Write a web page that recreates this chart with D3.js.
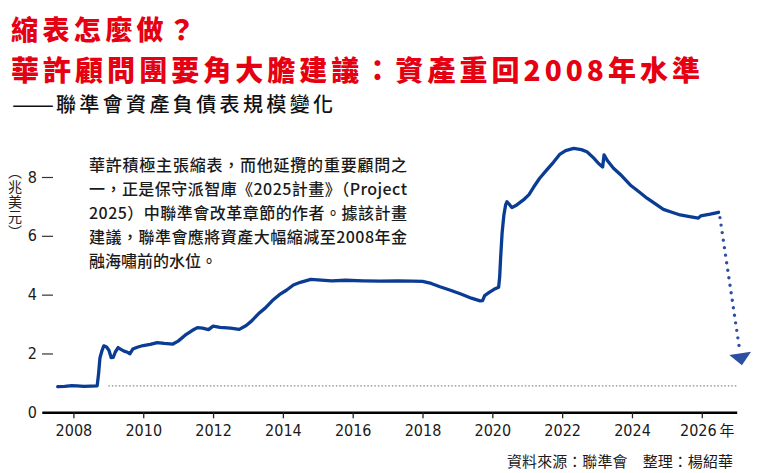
<!DOCTYPE html>
<html>
<head>
<meta charset="utf-8">
<script src="https://cdn.jsdelivr.net/npm/d3@7"></script>
<style>
  body { margin: 0; background: #fff; }
  svg { display: block; }
</style>
</head>
<body>
<div id="chart"></div>
<script>
// 聯準會資產負債表（兆美元）
const years = [2007.55, 2007.75, 2007.95, 2008.1, 2008.3, 2008.5, 2008.68, 2008.72, 2008.76, 2008.82,
  2008.87, 2008.95, 2009.02, 2009.08, 2009.14, 2009.2, 2009.28, 2009.36, 2009.45, 2009.55,
  2009.62, 2009.7, 2009.85, 2010.0, 2010.2, 2010.4, 2010.6, 2010.85, 2011.0, 2011.2,
  2011.4, 2011.55, 2011.7, 2011.87, 2012.0, 2012.2, 2012.5, 2012.75, 2012.95, 2013.1,
  2013.3, 2013.5, 2013.7, 2013.9, 2014.1, 2014.3, 2014.5, 2014.8, 2015.0, 2015.4,
  2015.8, 2016.3, 2016.8, 2017.3, 2017.7, 2018.0, 2018.25, 2018.5, 2018.8, 2019.1,
  2019.4, 2019.65, 2019.72, 2019.78, 2019.9, 2020.05, 2020.18, 2020.21, 2020.24, 2020.28,
  2020.33, 2020.38, 2020.42, 2020.5, 2020.56, 2020.7, 2020.89, 2021.05, 2021.18, 2021.35,
  2021.56, 2021.75, 2021.94, 2022.1, 2022.33, 2022.55, 2022.71, 2022.9, 2023.05, 2023.16,
  2023.2, 2023.3, 2023.47, 2023.7, 2023.95, 2024.2, 2024.43, 2024.65, 2024.9, 2025.1,
  2025.38, 2025.65, 2025.9, 2025.97, 2026.24, 2026.48];
const assets = [0.87, 0.88, 0.91, 0.90, 0.88, 0.89, 0.90, 1.30, 1.85, 2.10,
  2.26, 2.22, 2.10, 1.86, 1.87, 2.05, 2.20, 2.14, 2.08, 2.04,
  1.99, 2.15, 2.22, 2.27, 2.31, 2.37, 2.34, 2.32, 2.42, 2.62,
  2.78, 2.88, 2.86, 2.81, 2.93, 2.89, 2.86, 2.82, 2.95, 3.10,
  3.35, 3.55, 3.80, 4.00, 4.15, 4.33, 4.42, 4.52, 4.50, 4.47,
  4.49, 4.47, 4.46, 4.47, 4.46, 4.45, 4.38, 4.27, 4.15, 4.02,
  3.88, 3.79, 3.80, 3.97, 4.07, 4.18, 4.25, 4.60, 5.30, 6.10,
  6.70, 7.05, 7.16, 7.05, 6.96, 7.05, 7.22, 7.40, 7.65, 7.95,
  8.24, 8.50, 8.78, 8.90, 8.97, 8.93, 8.86, 8.65, 8.45, 8.34,
  8.75, 8.55, 8.30, 8.05, 7.73, 7.50, 7.28, 7.10, 6.90, 6.82,
  6.71, 6.65, 6.60, 6.68, 6.74, 6.80];

const xTicks = [2008, 2010, 2012, 2014, 2016, 2018, 2020, 2022, 2024, 2026];
const yTicks = [0, 2, 4, 6, 8];

// 2008 年水位的虛線，與縮表箭頭
const floorLevel = 0.9;
const floorRange = [2009.0, 2027.0];
const arrowStart = [2026.52, 6.62];
const arrowTip = [2027.15, 1.6];

const titleLines = ["縮表怎麼做？", "華許顧問團要角大膽建議：資產重回2008年水準"];
const subtitleDash = "——";
const subtitle = "聯準會資產負債表規模變化";
const unitLabel = "（兆美元）";
const noteLines = [
  "華許積極主張縮表，而他延攬的重要顧問之",
  "一，正是保守派智庫《2025計畫》（Project",
  "2025）中聯準會改革章節的作者。據該計畫",
  "建議，聯準會應將資產大幅縮減至2008年金",
  "融海嘯前的水位。"
];
const sourceText = "資料來源：聯準會　整理：楊紹華";

const cjk = "'Noto Sans CJK TC', 'Noto Sans CJK SC', sans-serif";
const narrow = "'Liberation Sans Narrow', 'DejaVu Sans Condensed', sans-serif";
const lineColor = "#0a3c94";

let svg = d3.select('#chart')
    .append('svg')
    .attr('width', 760)
    .attr('height', 473);

let x = d3.scaleLinear().domain([2007.1, 2027.0]).range([42, 736.7]);
let y = d3.scaleLinear().domain([0, 8]).range([412.3, 177]);

//Titles
svg.append('text')
    .attr('x', 11).attr('y', 40)
    .attr('font-family', cjk).attr('font-weight', 900)
    .attr('font-size', '27px').attr('fill', '#e50012')
    .attr('textLength', 184).attr('lengthAdjust', 'spacing')
    .text(titleLines[0]);

svg.append('text')
    .attr('x', 11).attr('y', 80.5)
    .attr('font-family', cjk).attr('font-weight', 900)
    .attr('font-size', '28px').attr('fill', '#e50012')
    .attr('textLength', 689).attr('lengthAdjust', 'spacing')
    .text(titleLines[1]);

let sub = svg.append('g')
    .attr('font-family', cjk).attr('font-weight', 500)
    .attr('font-size', '20px').attr('fill', '#111');
sub.append('text')
    .attr('x', 12).attr('y', 112)
    .attr('textLength', 42).attr('lengthAdjust', 'spacingAndGlyphs')
    .text(subtitleDash);
sub.append('text')
    .attr('x', 56).attr('y', 112)
    .attr('textLength', 277).attr('lengthAdjust', 'spacing')
    .text(subtitle);

//Unit label, vertical
svg.append('text')
    .attr('x', 15).attr('y', 165)
    .attr('font-family', cjk).attr('font-size', '14px').attr('fill', '#222')
    .style('writing-mode', 'vertical-rl')
    .style('text-orientation', 'upright')
    .style('letter-spacing', '1px')
    .text(unitLabel);

//Annotation
let note = svg.append('g')
    .attr('font-family', cjk).attr('font-size', '16px').attr('font-weight', 500).attr('fill', '#1a1a1a');
noteLines.forEach(function (line, i) {
    let t = note.append('text')
        .attr('x', 89).attr('y', 171 + i * 24)
        .text(line);
    if (i < noteLines.length - 1) {
        t.attr('textLength', 318).attr('lengthAdjust', 'spacing');
    }
});

//Y Axis
let yAxisCall = d3.axisLeft(y).tickValues(yTicks).tickSize(11).tickPadding(5).tickFormat(d3.format('d'));
let yAxis = svg.append('g').attr('transform', 'translate(53,0)').call(yAxisCall);
yAxis.select('.domain').remove();
yAxis.selectAll('line').attr('stroke', '#333').attr('stroke-width', 1.2);
yAxis.selectAll('text').attr('font-family', narrow).attr('font-size', '16px').attr('fill', '#1a1a1a');

//2008 floor line
svg.append('line')
    .attr('x1', x(floorRange[0])).attr('x2', x(floorRange[1]))
    .attr('y1', y(floorLevel)).attr('y2', y(floorLevel))
    .attr('stroke', '#8a8a8a').attr('stroke-width', 1.2)
    .attr('stroke-dasharray', '1.5,2');

//X Axis
let xAxisCall = d3.axisBottom(x).tickValues(xTicks).tickSize(6).tickSizeOuter(0).tickPadding(6).tickFormat(d3.format('d'));
let xAxis = svg.append('g').attr('transform', 'translate(0,' + y(0) + ')').call(xAxisCall);
xAxis.select('.domain').attr('stroke', '#000').attr('stroke-width', 2.6);
xAxis.selectAll('line').attr('stroke', '#222').attr('stroke-width', 1.3);
xAxis.selectAll('text').attr('font-family', narrow).attr('font-size', '16px').attr('fill', '#1a1a1a');
xAxis.selectAll('.tick text').filter(function (d) { return d === 2026; })
    .attr('x', 5)
    .append('tspan').attr('font-family', cjk).attr('font-size', '15px').attr('dx', 3).text('年');

//Balance sheet line
let data = years.map(function (yr, i) { return [yr, assets[i]]; });
let line = d3.line()
    .x(function (d) { return x(d[0]); })
    .y(function (d) { return y(d[1]); });

svg.append('path')
    .datum(data)
    .attr('d', line)
    .attr('fill', 'none')
    .attr('stroke', lineColor)
    .attr('stroke-width', 3.3)
    .attr('stroke-linejoin', 'round')
    .attr('stroke-linecap', 'round');

//Arrow
let ax0 = x(arrowStart[0]), ay0 = y(arrowStart[1]);
let ax1 = x(arrowTip[0]), ay1 = y(arrowTip[1]);
let len = Math.hypot(ax1 - ax0, ay1 - ay0);
let ux = (ax1 - ax0) / len, uy = (ay1 - ay0) / len;
let headLen = 12, headHalf = 11;
let bx = ax1 - ux * headLen, by = ay1 - uy * headLen;

svg.append('line')
    .attr('x1', ax0).attr('y1', ay0)
    .attr('x2', bx - ux * 3).attr('y2', by - uy * 3)
    .attr('stroke', '#2c4ea3').attr('stroke-width', 3.4)
    .attr('stroke-linecap', 'round')
    .attr('stroke-dasharray', '0,7.6');

svg.append('path')
    .attr('d', 'M' + ax1 + ',' + ay1 +
        'L' + (bx - uy * headHalf) + ',' + (by + ux * headHalf) +
        'L' + (bx + uy * headHalf) + ',' + (by - ux * headHalf) + 'Z')
    .attr('fill', '#2c4ea3');

//Source
svg.append('text')
    .attr('x', 733).attr('y', 467)
    .attr('text-anchor', 'end')
    .attr('font-family', cjk).attr('font-size', '15px').attr('fill', '#1a1a1a')
    .attr('textLength', 226).attr('lengthAdjust', 'spacing')
    .text(sourceText);
</script>
</body>
</html>
